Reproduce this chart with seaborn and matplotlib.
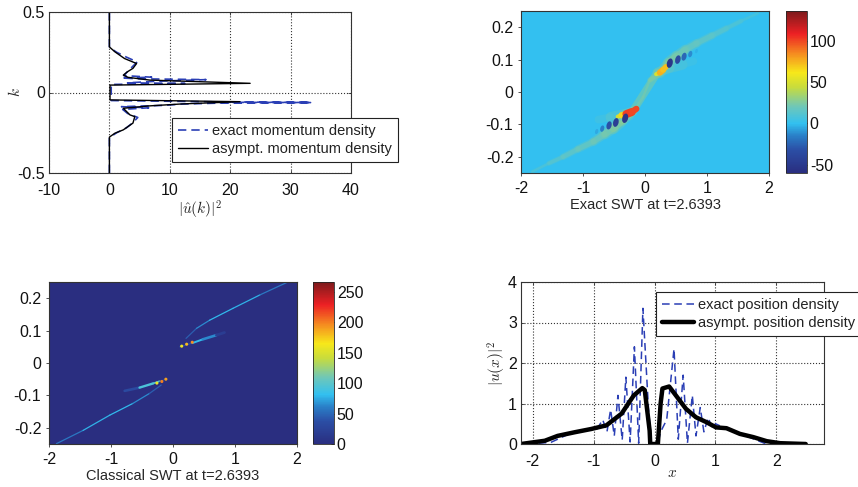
from matplotlib import pyplot as plt
from matplotlib.collections import LineCollection
from matplotlib.colors import LinearSegmentedColormap, Normalize
from matplotlib.markers import MarkerStyle
from matplotlib.transforms import Affine2D
import numpy as np
import seaborn as sns

# top left: momentum density
mom_k_asym = [-0.5, -0.277, -0.253, -0.232, -0.19, -0.15, -0.139, -0.098, -0.083, -0.071, -0.057, -0.046, 0.046, 0.057, 0.077, 0.094, 0.108, 0.129, 0.15, 0.18, 0.211, 0.253, 0.283, 0.5]
mom_u_asym = [0, 0, 0.9, 2.3, 3.9, 4.2, 3.4, 2.3, 6.7, 12, 21.6, 0.1, 0.1, 23.3, 6.7, 3.1, 2.3, 3.0, 3.9, 4.5, 2.5, 0.9, 0, 0]
mom_k_exact = [-0.5, -0.28, -0.25, -0.22, -0.19, -0.155, -0.13, -0.105, -0.095, -0.088, -0.08, -0.072, -0.066, -0.062, -0.061, -0.0625, -0.058, -0.05, 0.05, 0.056, 0.06, 0.07, 0.08, 0.085, 0.09, 0.095, 0.105, 0.13, 0.16, 0.19, 0.22, 0.25, 0.28, 0.5]
mom_u_exact = [0, 0, 1.2, 2.8, 3.8, 4.7, 3.0, 2.2, 6.5, 2.0, 9.0, 12.0, 18, 33.3, 18, 33.3, 18, 0.3, 0.3, 12.5, 3.0, 8.0, 16.0, 5.0, 2.0, 7.0, 2.4, 3.0, 3.8, 4.6, 2.8, 1.2, 0, 0]

# bottom right: position density
pos_x_asym = [-2.19, -1.8, -1.59, -1.31, -1.04, -0.79, -0.54, -0.34, -0.2, -0.16, -0.08, -0.07, 0.055, 0.1, 0.13, 0.24, 0.35, 0.515, 0.68, 0.85, 1.01, 1.18, 1.4, 1.62, 1.84, 2.06, 2.48]
pos_u_asym = [0, 0.08, 0.2, 0.29, 0.37, 0.46, 0.75, 1.2, 1.38, 1.33, 0.33, 0, 0, 1.0, 1.37, 1.42, 1.2, 0.87, 0.66, 0.54, 0.41, 0.39, 0.25, 0.17, 0.07, 0.02, 0]
pos_x_exact = [-2.1, -1.7, -1.4, -1.1, -0.95, -0.85, -0.78, -0.72, -0.66, -0.6, -0.53, -0.47, -0.4, -0.33, -0.26, -0.19, -0.1, -0.05, 0.05, 0.1, 0.2, 0.32, 0.39, 0.47, 0.54, 0.62, 0.68, 0.75, 0.81, 0.88, 0.95, 1.0, 1.2, 1.5, 1.8, 2.1]
pos_u_exact = [0, 0.04, 0.25, 0.36, 0.35, 0.6, 0.3, 0.85, 0.2, 1.2, 0.1, 1.65, 0.05, 2.4, 0.02, 3.35, 0.9, 0, 0, 0.3, 0.6, 2.35, 0.12, 1.7, 0.02, 1.2, 0.2, 0.9, 0.3, 0.65, 0.38, 0.5, 0.36, 0.2, 0.02, 0]

# top right: exact SWT ridges as x, k, value, width in points
exact_lim = (-60, 136)
exact_bg = 0
band_x = [-1.82, -1.55, -1.32, -1.08, -0.83, -0.65, -0.51, -0.38, -0.25, -0.15, -0.03, 0.08, 0.24, 0.38, 0.51, 0.65, 0.83, 1.08, 1.31, 1.55, 1.82]
band_k = [-0.246, -0.22, -0.2, -0.176, -0.153, -0.13, -0.112, -0.09, -0.07, -0.05, -0.015, 0.037, 0.058, 0.09, 0.11, 0.13, 0.15, 0.174, 0.196, 0.219, 0.243]
band_v = [8, 12, 16, 18, 20, 22, 24, 26, 28, 18, 14, 18, 28, 26, 24, 20, 18, 16, 12, 10, 6]
band_w = [1.2, 2, 3, 3.5, 4, 4.5, 5.5, 5.5, 4, 2, 1.2, 1.6, 4, 5.5, 5.5, 4.5, 4, 3.5, 3, 2, 1.2]
wedge_x = [-0.75, -0.55, -0.35, -0.2, 0.2, 0.4, 0.6, 0.78]
wedge_k = [-0.085, -0.078, -0.07, -0.06, 0.06, 0.075, 0.085, 0.095]
wedge_v = [5, 10, 18, 26, 26, 16, 9, 4]
wedge_w = [3, 5, 6, 4, 4, 6, 5, 3]
hot_x = [-0.44, -0.38, -0.3, -0.215, -0.14]
hot_k = [-0.076, -0.072, -0.068, -0.062, -0.052]
hot_v = [35, 60, 72, 130, 70]
hot_w = [2, 4, 5, 6.5, 2.5]
hot2_x = [0.18, 0.24, 0.29, 0.34]
hot2_k = [0.055, 0.06, 0.068, 0.078]
hot2_v = [40, 62, 88, 55]
hot2_w = [2, 4, 5, 3]
spot_x = [-0.32, -0.47, -0.58, -0.69, -0.78, 0.4, 0.53, 0.63, 0.73, 0.83]
spot_k = [-0.081, -0.094, -0.103, -0.113, -0.122, 0.089, 0.1, 0.109, 0.117, 0.126]
spot_v = [-52, -45, -32, -15, -5, -52, -36, -24, -12, -3]
spot_s = [48, 42, 36, 22, 14, 48, 40, 34, 22, 10]

# bottom left: classical SWT ridges
class_lim = (0, 266)
class_bg = 0
arc1_x = [-1.88, -1.45, -1.02, -0.65, -0.38, -0.19]
arc1_k = [-0.249, -0.208, -0.161, -0.125, -0.094, -0.068]
arc1_v = [45, 70, 85, 75, 55, 35]
arc2_x = [0.21, 0.38, 0.59, 0.97, 1.4, 1.83]
arc2_k = [0.076, 0.107, 0.132, 0.169, 0.21, 0.248]
arc2_v = [35, 55, 75, 85, 70, 45]
arc_w = [0.9, 0.9, 0.9, 0.9, 0.9, 0.9]
branch1_x = [-0.78, -0.54, -0.32, -0.215, -0.11]
branch1_k = [-0.086, -0.076, -0.063, -0.056, -0.05]
branch1_v = [10, 55, 130, 60, 20]
branch1_w = [2, 1.8, 1.6, 0.8, 0.5]
branch2_x = [0.11, 0.32, 0.48, 0.7, 0.83]
branch2_k = [0.05, 0.062, 0.073, 0.086, 0.094]
branch2_v = [20, 60, 100, 28, 8]
branch2_w = [0.5, 1, 1.8, 2, 2]
dot_x = [-0.26, -0.18, -0.115, 0.14, 0.22, 0.31]
dot_k = [-0.062, -0.057, -0.05, 0.052, 0.058, 0.064]
dot_v = [160, 200, 190, 160, 180, 195]

x_ticks = [-2, -1, 0, 1, 2]
swt_k_ticks = [-0.2, -0.1, 0, 0.1, 0.2]
swt_k_labels = ['-0.2', '-0.1', '0', '0.1', '0.2']
exact_cbar_ticks = [-50, 0, 50, 100]
class_cbar_ticks = [0, 50, 100, 150, 200, 250]

W, H = 858, 487
BLUE = '#2b3fb5'

# jet as it looks in the reference, slightly washed out
JET = LinearSegmentedColormap.from_list('washed_jet', [
    (0.0, '#2a2e80'), (0.14, '#2b4ea5'), (0.23, '#2a80c8'), (0.305, '#32c0f0'), (0.41, '#6fc7b8'),
    (0.53, '#c8dc3c'), (0.62, '#f7e81a'), (0.74, '#f58a20'), (0.86, '#ed2024'), (1.0, '#7d1a1c')])

sns.set_theme(style='ticks')
plt.rcParams['font.family'] = ['Liberation Sans', 'DejaVu Sans']
plt.rcParams['mathtext.fontset'] = 'cm'
plt.rcParams['axes.unicode_minus'] = False
plt.rcParams['xtick.direction'] = 'in'
plt.rcParams['ytick.direction'] = 'in'
plt.rcParams['text.color'] = '#222222'
plt.rcParams['xtick.labelcolor'] = '#111111'
plt.rcParams['ytick.labelcolor'] = '#111111'


def px_axes(fig, left, top, right, bottom):
    return fig.add_axes([left / W, 1 - bottom / H, (right - left) / W, (bottom - top) / H])


def style_axes(ax):
    ax.tick_params(labelsize=11.5, length=2.5, width=0.6, top=True, right=True, pad=3, color='#333333')
    for sp in ax.spines.values():
        sp.set_linewidth(0.8)
        sp.set_color('#333333')


def draw_ridge(ax, x, k, vals, widths, norm, alpha=1.0):
    pts = np.column_stack([x, k])
    segs = np.stack([pts[:-1], pts[1:]], axis=1)
    seg_vals = (np.array(vals[:-1]) + np.array(vals[1:])) / 2
    seg_w = (np.array(widths[:-1]) + np.array(widths[1:])) / 2
    lc = LineCollection(segs, cmap=JET, norm=norm, linewidths=seg_w, alpha=alpha, capstyle='round')
    lc.set_array(seg_vals)
    ax.add_collection(lc)


def swt_panel(fig, box, cbox, lim, bg, cticks, title):
    ax = px_axes(fig, *box)
    cax = px_axes(fig, *cbox)
    norm = Normalize(*lim)
    mesh = ax.pcolormesh([-2, 2], [-0.25, 0.25], [[bg]], cmap=JET, norm=norm)
    cb = fig.colorbar(mesh, cax=cax, ticks=cticks)
    cb.ax.tick_params(labelsize=11.5, length=2.5, width=0.6, pad=2, direction='in')
    cb.outline.set_linewidth(0.6)
    cb.ax.set_yticklabels([str(t) for t in cticks])
    ax.set_xlim(-2, 2)
    ax.set_ylim(-0.25, 0.25)
    ax.set_xticks(x_ticks)
    ax.set_xticklabels([str(t) for t in x_ticks])
    ax.set_yticks(swt_k_ticks)
    ax.set_yticklabels(swt_k_labels)
    ax.set_xlabel(title, fontsize=10.5, labelpad=2)
    style_axes(ax)
    ax.tick_params(top=False, right=False, direction='out')
    return ax, norm


fig = plt.figure(figsize=(W / 100, H / 100), dpi=100)

# top left
ax1 = px_axes(fig, 49, 12, 351, 173)
sns.lineplot(x=mom_u_exact, y=mom_k_exact, sort=False, estimator=None, color=BLUE, linewidth=1.2,
             linestyle=(0, (5, 3)), label='exact momentum density', ax=ax1)
sns.lineplot(x=mom_u_asym, y=mom_k_asym, sort=False, estimator=None, color='black', linewidth=1.0,
             label='asympt. momentum density', ax=ax1)
ax1.set_xlim(-10, 40)
ax1.set_ylim(-0.5, 0.5)
ax1.set_xticks([-10, 0, 10, 20, 30, 40])
ax1.set_xticklabels(['-10', '0', '10', '20', '30', '40'])
ax1.set_yticks([-0.5, 0, 0.5])
ax1.set_yticklabels(['-0.5', '0', '0.5'])
ax1.grid(True, linestyle=':', color='#333333', linewidth=0.8)
ax1.set_xlabel(r'$|\hat{u}(k)|^2$', fontsize=11, labelpad=1)
ax1.set_ylabel(r'$k$', fontsize=11, labelpad=-4)
style_axes(ax1)
ax1.tick_params(axis='x', pad=7)
ax1.legend(loc='lower left', bbox_to_anchor=(0.407, 0.068), borderaxespad=0, fontsize=10.5, fancybox=False,
           framealpha=1, edgecolor='#222222', handlelength=2.05, labelspacing=0.3, handletextpad=0.3,
           borderpad=0.4).get_frame().set_linewidth(0.8)

# top right
ax2, norm2 = swt_panel(fig, (521, 11, 769, 173), (786, 11, 807, 173), exact_lim, exact_bg, exact_cbar_ticks,
                       'Exact SWT at t=2.6393')
draw_ridge(ax2, band_x, band_k, band_v, [w * 1.5 for w in band_w], norm2, alpha=0.35)
draw_ridge(ax2, band_x, band_k, band_v, band_w, norm2, alpha=0.7)
draw_ridge(ax2, wedge_x, wedge_k, wedge_v, [w * 1.4 for w in wedge_w], norm2, alpha=0.5)
draw_ridge(ax2, hot_x, hot_k, hot_v, hot_w, norm2)
draw_ridge(ax2, hot2_x, hot2_k, hot2_v, hot2_w, norm2)
spot_marker = MarkerStyle('o', transform=Affine2D().scale(0.6, 1).rotate_deg(-15))
ax2.scatter(spot_x, spot_k, c=spot_v, s=spot_s, cmap=JET, norm=norm2, marker=spot_marker, linewidths=0, zorder=3)

# bottom left
ax3, norm3 = swt_panel(fig, (49, 282, 297, 444), (313, 282, 334, 444), class_lim, class_bg, class_cbar_ticks,
                       'Classical SWT at t=2.6393')
draw_ridge(ax3, arc1_x, arc1_k, arc1_v, arc_w, norm3)
draw_ridge(ax3, arc2_x, arc2_k, arc2_v, arc_w, norm3)
draw_ridge(ax3, branch1_x, branch1_k, branch1_v, branch1_w, norm3)
draw_ridge(ax3, branch2_x, branch2_k, branch2_v, branch2_w, norm3)
ax3.scatter(dot_x, dot_k, c=dot_v, s=5, cmap=JET, norm=norm3, linewidths=0, zorder=3)

# bottom right
ax4 = px_axes(fig, 521, 282, 824, 444)
sns.lineplot(x=pos_x_exact, y=pos_u_exact, sort=False, estimator=None, color=BLUE, linewidth=1.1,
             linestyle=(0, (5, 3)), label='exact position density', ax=ax4)
sns.lineplot(x=pos_x_asym, y=pos_u_asym, sort=False, estimator=None, color='black', linewidth=3.2,
             label='asympt. position density', ax=ax4)
ax4.set_xlim(-2.19, 2.78)
ax4.set_ylim(0, 4)
ax4.set_xticks(x_ticks)
ax4.set_xticklabels([str(t) for t in x_ticks])
ax4.set_yticks([0, 1, 2, 3, 4])
ax4.set_yticklabels(['0', '1', '2', '3', '4'])
ax4.grid(True, linestyle=':', color='#333333', linewidth=0.8)
ax4.set_xlabel(r'$x$', fontsize=11, labelpad=-2)
ax4.set_ylabel(r'$|u(x)|^2$', fontsize=11, labelpad=0)
style_axes(ax4)
ax4.tick_params(axis='x', pad=7)
ax4.legend(loc='upper left', bbox_to_anchor=(0.4455, 0.938), borderaxespad=0, fontsize=10.5, fancybox=False,
           framealpha=1, edgecolor='#222222', handlelength=2.2, labelspacing=0.3, handletextpad=0.25,
           borderpad=0.4).get_frame().set_linewidth(0.8)

fig.savefig('out.png', dpi=100, facecolor='white')
